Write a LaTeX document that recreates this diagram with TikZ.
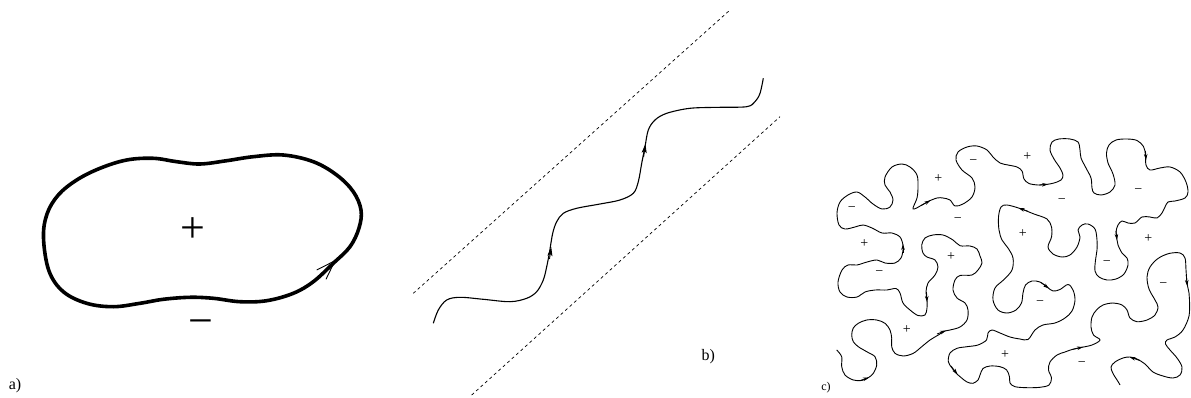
\documentclass[tikz,border=0pt]{standalone}
\usepackage{fontspec}
\setmainfont{Liberation Serif}
\usetikzlibrary{arrows.meta}
\begin{document}
\begin{tikzpicture}[x=1pt,y=-1pt,
  thickcurve/.style={line width=3.6pt, line join=round},
  wavy/.style={line width=1.1pt},
  fine/.style={line width=0.9pt},
  dashline/.style={dash pattern=on 3pt off 3pt, line width=0.7pt},
  arrc/.style={-{Stealth[length=6pt,width=3.6pt]}, line width=0.8pt},
  arrb/.style={-{Stealth[length=9pt,width=5pt,inset=2pt]}, line width=0.9pt},
  barb/.style={line width=0.9pt},
  biglbl/.style={font=\fontsize{44}{44}\selectfont, inner sep=0pt},
  smlbl/.style={font=\fontsize{14}{14}\selectfont, inner sep=0pt},
  panel/.style={font=\fontsize{16}{16}\selectfont, inner sep=0pt}]
\useasboundingbox (0,0) rectangle (1191,398);

% ---------- panel a ----------
\draw[thickcurve] plot[smooth cycle, tension=0.6] coordinates {
 (43.5,238) (47,214) (58.3,195) (76.7,180) (100,168.3) (126.7,160)
 (153.3,158.3) (176.7,161.7) (200,164) (226.7,160.7) (253.3,156.7)
 (283.3,155) (313.3,161.7) (336.7,175) (353.3,191.7) (361,210)
 (359,228) (350,246.7) (333.3,263.3) (313.3,281.7) (293.3,293.3)
 (266.7,300.7) (240,301.7) (213.3,298.3) (190,297.3) (163.3,299.3)
 (140,303.3) (113.3,306.7) (86.7,303.3) (63.3,291.7) (49,271)};
\coordinate (atip) at (335,260.7);
\draw[barb] (316.7,270) -- (atip) -- (326,279.3);
\node[biglbl] (aplus) at (192.7,230) {+};
\node[biglbl] (aminus) at (201,328) {−};
\node[panel] (alab) at (15,386) {a)};

% ---------- panel b ----------
\coordinate (u1) at (413.3,293.3);
\coordinate (u2) at (730,10);
\coordinate (l1) at (471.7,395);
\coordinate (l2) at (780,116.7);
\draw[dashline] (u1) -- (u2);
\draw[dashline] (l1) -- (l2);
\draw[wavy] plot[smooth, tension=0.55] coordinates {
 (433.3,323.3) (438.3,310) (446.7,300) (460,297.3) (483.3,299.3)
 (510,301.7) (526.7,298.3) (536.7,291.7) (543.3,280) (546.7,266.7)
 (549.3,253.3) (552.7,233.3) (556.7,221.7) (563.3,213.3) (576.7,208.3)
 (600,204) (620,200) (633.3,193.3) (638.3,181.7) (641.7,163.3)
 (645,146.7) (648.3,130) (655,120) (666.7,113.3) (690,108.3)
 (720,107.3) (746.7,106.7) (755,101.7) (760,93.3) (763.3,78.3)};
\draw[arrb] (549.5,259) -- (551.2,247);
\draw[arrb] (643.6,157) -- (645.4,144);
\node[panel] (blab) at (708.3,357) {b)};

% ---------- panel c ----------
\draw[fine] plot[smooth, tension=0.55] coordinates {
 (836.7,350) (841.7,356.7) (841.7,366.7) (845,375) (853.3,380) (861.7,380.5)
 (868.3,377.7) (873.3,373.3) (876.7,365) (875,356.7) (866.7,351.7) (858.3,346.7)
 (853.3,341.7) (851.7,335) (853.3,328) (858.3,323.3) (866.7,320) (876.7,320)
 (885,323.3) (890,330) (891.7,338.3) (891.7,346.7) (895,353.3) (903.3,356)
 (913.3,353.3) (921.7,346.7) (930,340) (938.3,335) (945,331) (950,330)
 (960,327) (967,320) (968,310) (965,303) (957,298) (953,290) (955,280)
 (960,275.5) (972,275) (978,270) (982,263) (980,256) (977,249) (970,246)
 (960,245.7) (953,240) (943,235) (933,235) (925,238) (921.7,245) (923,253)
 (927,257) (935,260) (938,267) (935,275) (928,283) (926,292) (927,300)
 (927,308) (925,315) (918,315.5) (910,310) (903,303) (900,293) (896,288.5)
 (887,290) (875,290) (865,292) (857,297) (847,297) (840,292) (838,282)
 (842,270) (848,265) (857,265) (867,262) (877,260) (885,263) (895,263)
 (901,258) (903,250) (903,245) (900,237) (892,233) (882,233) (872,228)
 (863,225) (855,227) (845,229) (839,225) (837,213) (840,202) (848,195)
 (857,192) (865,197) (873,204) (882,209) (890,207) (893,200) (890,192)
 (885,185) (885,177) (892,167) (902,164) (910,167) (917,175) (918,187)
 (917,198) (913,209) (922,205) (928,201.5) (937,198) (943,198) (950,200)
 (955,206) (963,204) (972,197) (975,187) (972,178) (962,170) (956,160)
 (958,152) (967,147) (977,146) (987,150) (993,157) (1000,163) (1008,165)
 (1017,167) (1022,171) (1024,179) (1029,183.5) (1038,185) (1046,184.5)
 (1054,183) (1061,180) (1063,175) (1060,168) (1054,159) (1050,150)
 (1052,142) (1059,139) (1070,139) (1078,142) (1080,150) (1081,158)
 (1086,168) (1091,178) (1092,188) (1094,193) (1101,195) (1110,192)
 (1115,185) (1113,174) (1108,163) (1106.5,153) (1109,145) (1116,140)
 (1127,139) (1137,140.5) (1143.5,146.5) (1145.5,155) (1146,165) (1150,170)
 (1160,168) (1170,167) (1180,172) (1186,182) (1188,192) (1185,198)
 (1175,201) (1168,202) (1165,207) (1162,213) (1157,218) (1150,217)
 (1142,217) (1135,223) (1128,223) (1122,221) (1118,225) (1116,232)
 (1117,240) (1118,245) (1122,253) (1127,258) (1128,265) (1124,274)
 (1116,279) (1107,280) (1099,277) (1095,271) (1095.5,260) (1097,250)
 (1097,240) (1095,229) (1088,224) (1082,225) (1078,230) (1080,237)
 (1077,247) (1070,255) (1062,257) (1053,254) (1048,247) (1051.5,237)
 (1051.5,227) (1047,219) (1034,214) (1020,208.5) (1007,205) (1001,207)
 (998.5,217) (999,230) (1002,240) (1008,248) (1013,258) (1012,270)
 (1004,279.5) (995,288) (993,300) (998,310) (1007,313) (1016,310)
 (1021.5,303) (1023,293) (1025.5,285) (1032,281) (1040,282) (1047,287)
 (1053,291) (1060,289.5) (1068,284.5) (1073,290) (1075,300) (1072,311)
 (1065,318) (1055,323) (1043,325) (1035,330) (1028,339.5) (1020,339)
 (1010,337) (1000,333) (992,330) (988,333) (986.5,340) (978,345)
 (967,346.7) (957,348.3) (950,353) (948.3,361.7) (952,368) (956,373)
 (961,377.5) (967,382) (973,383.3) (978,380) (980,375) (983,368.5)
 (990,366) (1000,366.7) (1006.7,370) (1009.5,377) (1010,383) (1015,386.7)
 (1027,387.7) (1040,387.3) (1049,385) (1051.5,378) (1048.5,370) (1050,362)
 (1057,355) (1065,352) (1072,349.5) (1081,347.5) (1092,345) (1100,340)
 (1093.5,335) (1091,327) (1092,317) (1096.5,310) (1103,305) (1113,303)
 (1122,305) (1127,310) (1130,318) (1137,321.7) (1147,320) (1155,315)
 (1158,307) (1155,300) (1149,289) (1147,277) (1150,267) (1158,258.5)
 (1169,253.5) (1180,253) (1185,258) (1186,270) (1187,283) (1189,293)
 (1189.5,300) (1189,316) (1183,330) (1175,337) (1167,340) (1165.5,344)
 (1170,350) (1177,358) (1182,367) (1180,375) (1173,378) (1163,376)
 (1153,372) (1145,364) (1137,359) (1130,357) (1123,358) (1115,362)
 (1111,367) (1113,373.5) (1118,381.5) (1120,385)};
% arrowheads along the curve
\draw[arrc] (860,380.6) -- (869,377.4);
\draw[arrc] (937,334) -- (946,330.5);
\draw[arrc] (926.5,292) -- (927,302);
\draw[arrc] (903,253) -- (903,244);
\draw[arrc] (921,205.5) -- (930.5,200.5);
\draw[arrc] (1039,185) -- (1048,184.3);
\draw[arrc] (1145.5,151) -- (1146,160);
\draw[arrc] (1116,231) -- (1117,240);
\draw[arrc] (1028,211.3) -- (1018.5,208);
\draw[arrc] (1041,282.5) -- (1049,288.5);
\draw[arrc] (951,366) -- (957.5,374.5);
\draw[arrc] (1073,349.3) -- (1083,347);
\draw[arrc] (1186.3,275) -- (1187.2,286);
\draw[arrc] (1140,360.5) -- (1129.5,357);
% labels
\node[smlbl] (c1) at (851.7,209.5) {−};
\node[smlbl] (c2) at (938.3,179) {+};
\node[smlbl] (c3) at (973.3,162.5) {−};
\node[smlbl] (c4) at (1027.3,157) {+};
\node[smlbl] (c5) at (957.7,220.5) {−};
\node[smlbl] (c6) at (864.3,243.5) {+};
\node[smlbl] (c7) at (1061.7,201) {−};
\node[smlbl] (c8) at (1138.3,191.5) {−};
\node[smlbl] (c9) at (1022.7,233.5) {+};
\node[smlbl] (c10) at (1148.3,238.5) {+};
\node[smlbl] (c11) at (1106.7,263.3) {−};
\node[smlbl] (c12) at (951,256.5) {+};
\node[smlbl] (c13) at (879.3,273) {−};
\node[smlbl] (c14) at (1040,302.7) {−};
\node[smlbl] (c15) at (1163.3,285) {−};
\node[smlbl] (c16) at (906.7,330) {+};
\node[smlbl] (c17) at (1005,354.5) {+};
\node[smlbl] (c18) at (1081.7,364.3) {−};
\node[font=\fontsize{12}{12}\selectfont, inner sep=0pt] (clab) at (826,388) {c)};
\end{tikzpicture}
\end{document}
